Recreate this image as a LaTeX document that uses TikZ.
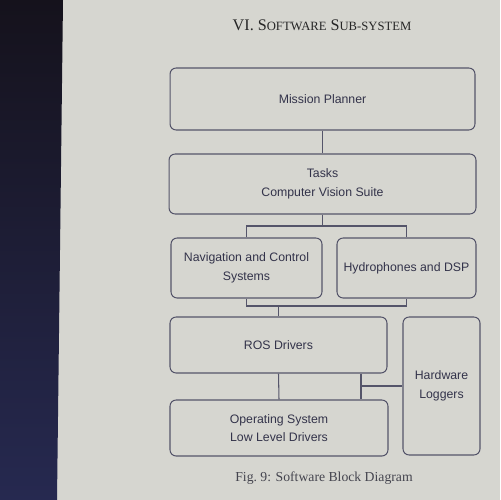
\documentclass[tikz,border=0pt]{standalone}
\usepackage{fontspec}
\setmainfont{Liberation Serif}
\newfontfamily\boxfont{Liberation Sans}
\usepackage{tikz}
\usetikzlibrary{positioning, calc}
\usepackage{xcolor}
\definecolor{pagebg}{HTML}{D6D6D0}
\definecolor{screentop}{HTML}{15121C}
\definecolor{screenbot}{HTML}{262950}
\definecolor{boxline}{HTML}{55556A}
\definecolor{boxtext}{HTML}{33334A}
\definecolor{capcol}{HTML}{45454F}

\begin{document}
\begin{tikzpicture}[x=0.02cm, y=-0.02cm,
    blk/.style={draw=boxline, line width=0.6pt, rounded corners=3.5pt,
                align=center, text=boxtext, inner sep=0pt,
                font=\boxfont\fontsize{7}{10.6}\selectfont},
    link/.style={draw=boxline, line width=0.6pt}]
    \useasboundingbox (0,0) rectangle (500,500);
    \fill[pagebg] (0,0) rectangle (500,500);
    \shade[top color=screentop, bottom color=screenbot]
        (0,0) -- (63,0) -- (57,500) -- (0,500) -- cycle;

    \node[font=\fontsize{9.2}{11}\selectfont, text=black!85] (title) at (322,25)
        {VI.\ S{\fontsize{7.2}{8}\selectfont OFTWARE} S{\fontsize{7.2}{8}\selectfont UB-SYSTEM}};

    \foreach \nm/\cx/\cy/\bw/\bh/\txt in {mp/322.5/99/6.10/1.24/{Mission Planner},
                                         tk/322.5/184/6.14/1.20/{Tasks\\Computer Vision Suite},
                                         nav/246.5/268/3.02/1.20/{Navigation and Control\\Systems},
                                         hyd/406.5/268/2.78/1.20/{Hydrophones and DSP},
                                         ros/278.5/345/4.34/1.12/{ROS Drivers},
                                         hw/441.5/386/1.54/2.76/{Hardware\\Loggers},
                                         os/279/428/4.36/1.12/{Operating System\\Low Level Drivers}}{
      \node[blk, minimum width=\bw cm, minimum height=\bh cm] (\nm) at (\cx,\cy) {\txt};
    }

    \coordinate (tkfork) at (324,226);
    \coordinate (navbus) at (279,306);
    \coordinate (hwtap) at (361,386);

    \draw[link] (mp.south) -- (tk.north);
    \draw[link] (tk.south) -- (tk.south |- tkfork);
    \draw[link] (nav.north) |- (hyd.north |- tkfork) -- (hyd.north);
    \draw[link] (nav.south) |- (hyd.south |- navbus) -- (hyd.south);
    \draw[link] (ros.north) -- (ros.north |- navbus);
    \draw[link] (ros.south) -- (os.north);
    \draw[link] (ros.south -| hwtap) -- (os.north -| hwtap);
    \draw[link] (hwtap) -- (hw.west |- hwtap);

    \node[font=\fontsize{7.8}{9}\selectfont, text=capcol] (cap) at (324,478)
        {Fig.~9: Software Block Diagram};
\end{tikzpicture}
\end{document}
